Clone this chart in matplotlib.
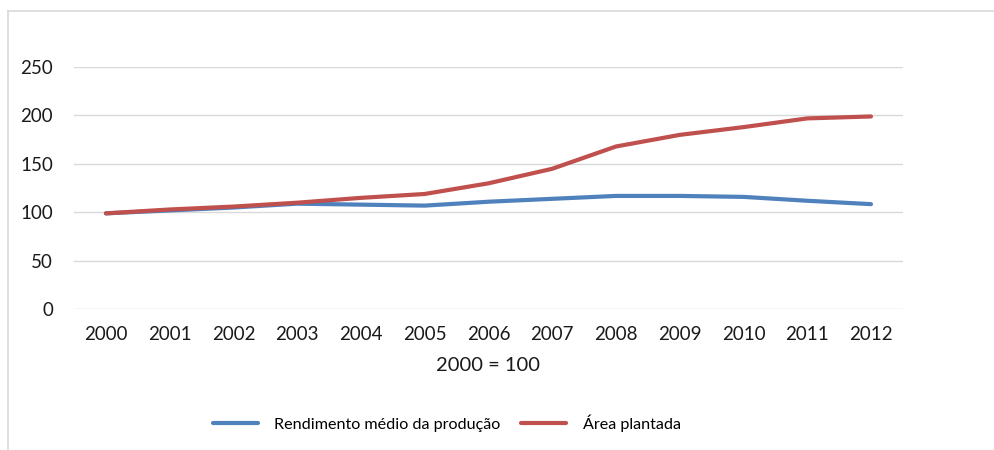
import matplotlib.pyplot as plt
from matplotlib.lines import Line2D

plt.rcParams['font.family'] = ['Lato', 'DejaVu Sans']

anos = ['2000', '2001', '2002', '2003', '2004', '2005', '2006',
        '2007', '2008', '2009', '2010', '2011', '2012']
rendimento = [99, 102, 105, 109, 108, 107, 111, 114, 117, 117, 116, 112, 108.5]
area = [99, 103, 106, 110, 115, 119, 130, 145, 168, 180, 188, 197, 199]

fig = plt.figure(figsize=(9.95, 4.5), dpi=100)
ax = fig.add_axes([0.0744, 0.3127, 0.833, 0.5383])

x = range(len(anos))
ax.plot(x, rendimento, color='#4f81bd', lw=3, solid_capstyle='round',
        label='Rendimento médio da produção')
ax.plot(x, area, color='#c0504d', lw=3, solid_capstyle='round',
        label='Área plantada')

ax.set_xlim(-0.5, len(anos) - 0.5)
ax.set_ylim(0, 250)
ax.set_yticks(range(0, 251, 50))
ax.set_xticks(list(x))
ax.set_xticklabels(anos)
ax.grid(axis='y', color='#d9d9d9', lw=1)
ax.set_axisbelow(True)
for s in ax.spines.values():
    s.set_visible(False)
ax.tick_params(length=0, labelsize=13.5, colors='#1a1a1a')
ax.tick_params(axis='y', pad=15)
ax.tick_params(axis='x', pad=12)
ax.set_xlabel('2000 = 100', fontsize=14.5, color='#1a1a1a', labelpad=10)

leg = fig.legend(loc='center', bbox_to_anchor=(0.449, 0.06), ncol=2,
                 frameon=False, fontsize=11.6, handlelength=2.8,
                 handletextpad=1.0, columnspacing=1.3)

# moldura do gráfico
fig.add_artist(Line2D([8 / 995, 8 / 995], [0, 1 - 11 / 450],
                      color='#d9d9d9', lw=1.2, transform=fig.transFigure))
fig.add_artist(Line2D([8 / 995, 1], [1 - 11 / 450, 1 - 11 / 450],
                      color='#d9d9d9', lw=1.2, transform=fig.transFigure))

fig.savefig('out.png', dpi=100)
